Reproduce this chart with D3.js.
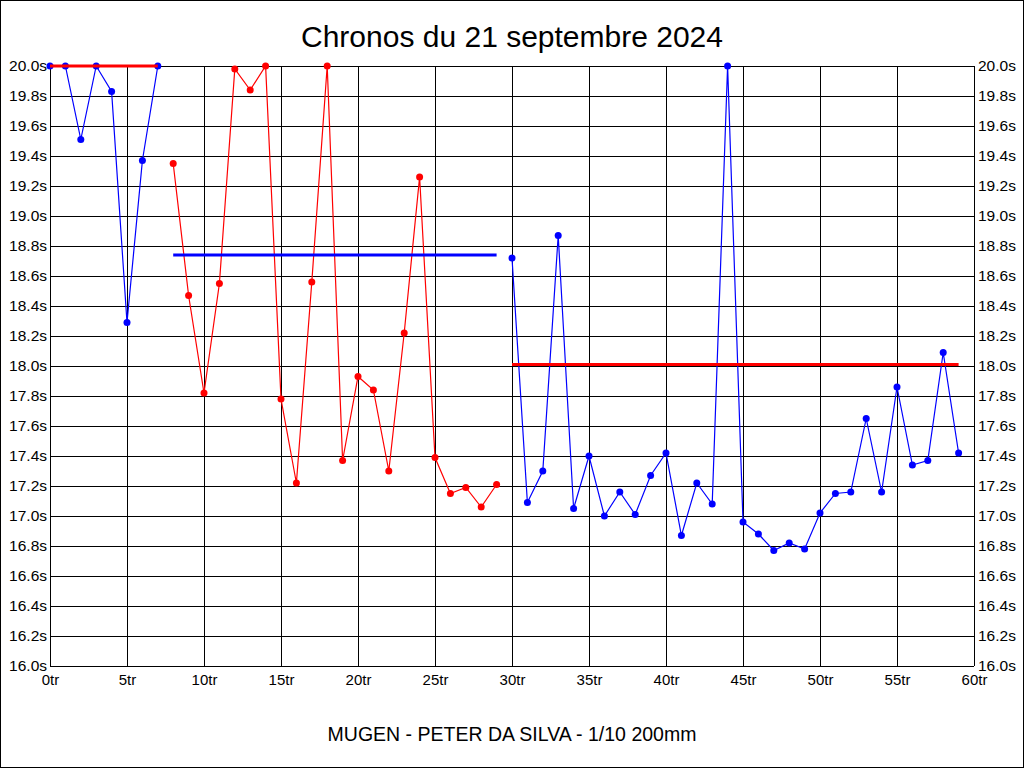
<!DOCTYPE html>
<html lang="fr">
<head>
    <meta charset="UTF-8">
    <title>Chronos</title>
    <script src="https://d3js.org/d3.v7.min.js"></script>
    <style>
        body { margin: 0; background: #fff; }
        svg { display: block; font-family: "Liberation Sans", Arial, sans-serif; }
    </style>
</head>
<body>
<div id="graphique"></div>
<script>
    // données (temps au tour, en secondes)
    var debut1 = 0
    var serie1 = [20.0, 20.0, 19.51, 20.0, 19.83, 18.29, 19.37, 20.0]
    var debut2 = 8
    var serie2 = [19.35, 18.47, 17.82, 18.55, 19.98, 19.84, 20.0, 17.78, 17.22, 18.56,
                  20.0, 17.37, 17.93, 17.84, 17.30, 18.22, 19.26, 17.39, 17.15, 17.19,
                  17.06, 17.21]
    var debut3 = 30
    var serie3 = [18.72, 17.09, 17.30, 18.87, 17.05, 17.40, 17.00, 17.16, 17.01, 17.27,
                  17.42, 16.87, 17.22, 17.08, 20.0, 16.96, 16.88, 16.77, 16.82, 16.78,
                  17.02, 17.15, 17.16, 17.65, 17.16, 17.86, 17.34, 17.37, 18.09, 17.42]
    // moyennes de chaque série
    var moyennes = [20.0, 18.74, 18.01]
    var couleursSerie = ["#0000ff", "#ff0000", "#0000ff"]
    var couleursMoy = ["#ff0000", "#0000ff", "#ff0000"]

    var ticksX = [0, 5, 10, 15, 20, 25, 30, 35, 40, 45, 50, 55, 60]
    var ticksY = [16.0, 16.2, 16.4, 16.6, 16.8, 17.0, 17.2, 17.4, 17.6, 17.8,
                  18.0, 18.2, 18.4, 18.6, 18.8, 19.0, 19.2, 19.4, 19.6, 19.8, 20.0]

    var width = 1024
    var height = 768
    var margin = {top: 66, bottom: 102, left: 50, right: 50}

    var svg = d3.select("#graphique")
        .append("svg")
        .attr("width", width)
        .attr("height", height)

    // cadre extérieur
    svg.append("rect")
        .attr("x", 0.5).attr("y", 0.5)
        .attr("width", width - 1).attr("height", height - 1)
        .attr("fill", "#fff").attr("stroke", "#000")

    var x = d3.scaleLinear()
        .domain([0, 60])
        .range([margin.left, width - margin.right])
    var y = d3.scaleLinear()
        .domain([16, 20])
        .range([height - margin.bottom, margin.top])

    // grille horizontale + étiquettes à gauche
    svg.append("g")
        .attr("transform", "translate(" + margin.left + ",0)")
        .call(d3.axisLeft(y).tickValues(ticksY).tickSize(-(x(60) - x(0))).tickPadding(3)
            .tickFormat(function (d) { return d3.format(".1f")(d) + "s" }))
        .call(function (g) { g.select(".domain").remove() })
        .call(function (g) {
            g.selectAll("line").attr("stroke", "#000").attr("shape-rendering", "crispEdges")
            g.selectAll("text").attr("fill", "#000").attr("font-size", 15.5)
                .attr("font-family", "Liberation Sans, Arial, sans-serif")
        })

    // étiquettes à droite
    svg.append("g")
        .attr("transform", "translate(" + (width - margin.right) + ",0)")
        .call(d3.axisRight(y).tickValues(ticksY).tickSize(0).tickPadding(4)
            .tickFormat(function (d) { return d3.format(".1f")(d) + "s" }))
        .call(function (g) { g.select(".domain").remove() })
        .call(function (g) {
            g.selectAll("text").attr("fill", "#000").attr("font-size", 15.5)
                .attr("font-family", "Liberation Sans, Arial, sans-serif")
        })

    // grille verticale + étiquettes en bas
    svg.append("g")
        .attr("transform", "translate(0," + (height - margin.bottom) + ")")
        .call(d3.axisBottom(x).tickValues(ticksX).tickSize(-(y(16) - y(20))).tickPadding(8)
            .tickFormat(function (d) { return d + "tr" }))
        .call(function (g) { g.select(".domain").remove() })
        .call(function (g) {
            g.selectAll("line").attr("stroke", "#000").attr("shape-rendering", "crispEdges")
            g.selectAll("text").attr("fill", "#000").attr("font-size", 15)
                .attr("font-family", "Liberation Sans, Arial, sans-serif")
        })

    // titres
    svg.append("text")
        .attr("x", width / 2).attr("y", 47)
        .attr("text-anchor", "middle")
        .attr("font-size", 30)
        .text("Chronos du 21 septembre 2024")
    svg.append("text")
        .attr("x", width / 2).attr("y", 741)
        .attr("text-anchor", "middle")
        .attr("font-size", 19.5)
        .text("MUGEN - PETER DA SILVA - 1/10 200mm")

    var series = [
        {debut: debut1, temps: serie1},
        {debut: debut2, temps: serie2},
        {debut: debut3, temps: serie3}
    ]

    var ligne = d3.line()
        .x(function (d) { return x(d.tour) })
        .y(function (d) { return y(d.temps) })

    series.forEach(function (s, k) {
        var pts = s.temps.map(function (t, i) { return {tour: s.debut + i, temps: t} })
        var fin = s.debut + s.temps.length - 1

        svg.append("path")
            .datum(pts)
            .attr("d", ligne)
            .attr("fill", "none")
            .attr("stroke", couleursSerie[k])
            .attr("stroke-width", 1.2)

        svg.append("g")
            .selectAll("circle")
            .data(pts)
            .enter()
            .append("circle")
            .attr("cx", function (d) { return x(d.tour) })
            .attr("cy", function (d) { return y(d.temps) })
            .attr("r", 3.5)
            .attr("fill", couleursSerie[k])

        // ligne de moyenne
        svg.append("line")
            .attr("x1", x(s.debut)).attr("x2", x(fin))
            .attr("y1", y(moyennes[k])).attr("y2", y(moyennes[k]))
            .attr("stroke", couleursMoy[k])
            .attr("stroke-width", 3)
    })
</script>
</body>
</html>
